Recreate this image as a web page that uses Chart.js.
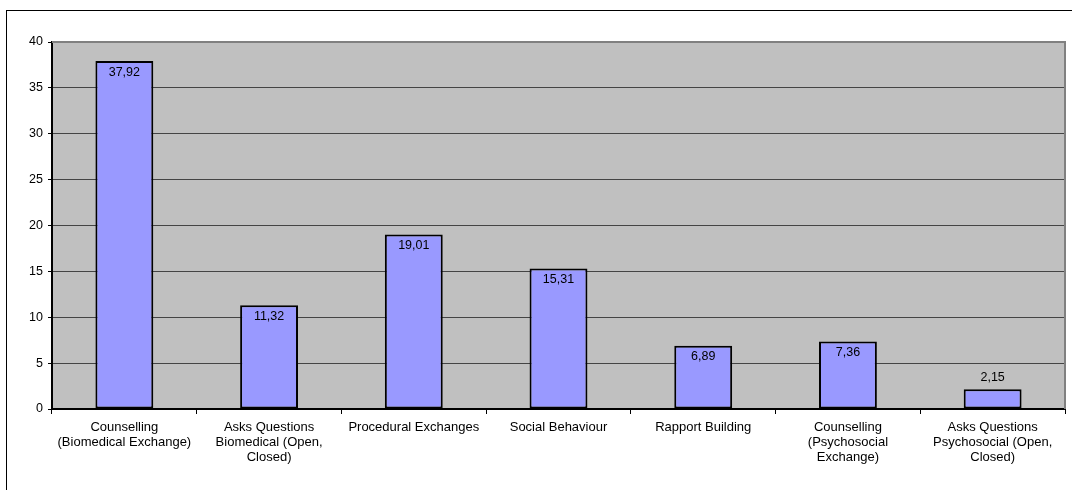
<!DOCTYPE html>
<html>
<head>
<meta charset="utf-8">
<script src="https://cdn.jsdelivr.net/npm/chart.js@4"></script>
<style>
  html, body { margin: 0; padding: 0; background: #fff; overflow: hidden; }
  #wrap { position: relative; width: 1072px; height: 490px; }
  #frame { position: absolute; left: 6px; top: 10px; width: 1100px; height: 520px; border: 1.5px solid #000; }
  canvas { position: absolute; left: 0; top: 0; }
</style>
</head>
<body>
<div id="wrap">
  <div id="frame"></div>
  <canvas id="c" width="1072" height="490"></canvas>
</div>
<script>
const categories = [
  ['Counselling', '(Biomedical Exchange)'],
  ['Asks Questions', 'Biomedical (Open,', 'Closed)'],
  ['Procedural Exchanges'],
  ['Social Behaviour'],
  ['Rapport Building'],
  ['Counselling', '(Psychosocial', 'Exchange)'],
  ['Asks Questions', 'Psychosocial (Open,', 'Closed)']
];
const values = [37.92, 11.32, 19.01, 15.31, 6.89, 7.36, 2.15];
const valueLabels = ['37,92', '11,32', '19,01', '15,31', '6,89', '7,36', '2,15'];
const yTicks = [0, 5, 10, 15, 20, 25, 30, 35, 40];

const FONT = '"Liberation Sans", Arial, sans-serif';

// Grey plot background with a grey frame on top and right
const plotBackground = {
  id: 'plotBackground',
  beforeDraw(chart) {
    const { ctx, chartArea: a } = chart;
    ctx.save();
    ctx.fillStyle = '#C0C0C0';
    ctx.fillRect(a.left, a.top, a.right - a.left, a.bottom - a.top);
    ctx.restore();
  },
  afterDatasetsDraw(chart) {
    const { ctx, chartArea: a } = chart;
    ctx.save();
    ctx.strokeStyle = '#808080';
    ctx.lineWidth = 2;
    ctx.beginPath();
    ctx.moveTo(a.left, a.top);
    ctx.lineTo(a.right, a.top);
    ctx.lineTo(a.right, a.bottom);
    ctx.stroke();
    ctx.restore();
  }
};

// Value labels: inside the bar near its top, or above short bars
const valueLabelPlugin = {
  id: 'valueLabelPlugin',
  afterDatasetsDraw(chart) {
    const { ctx } = chart;
    const meta = chart.getDatasetMeta(0);
    ctx.save();
    ctx.font = '12.5px ' + FONT;
    ctx.fillStyle = '#000';
    ctx.textAlign = 'center';
    ctx.textBaseline = 'middle';
    meta.data.forEach((bar, i) => {
      const h = bar.base - bar.y;
      const y = h > 24 ? bar.y + 11 : bar.y - 12;
      ctx.fillText(valueLabels[i], bar.x, y);
    });
    ctx.restore();
  }
};

new Chart(document.getElementById('c'), {
  type: 'bar',
  data: {
    labels: categories,
    datasets: [{
      data: values,
      backgroundColor: '#9999FF',
      borderColor: '#000',
      borderWidth: 2,
      borderSkipped: false,
      categoryPercentage: 1,
      barPercentage: 0.4
    }]
  },
  options: {
    responsive: false,
    animation: false,
    devicePixelRatio: 1,
    layout: { padding: { left: 0, top: 42, right: 7, bottom: 0 } },
    plugins: { legend: { display: false }, tooltip: { enabled: false } },
    scales: {
      x: {
        afterFit(scale) { scale.height = 81; },
        grid: {
          offset: true,
          drawOnChartArea: false,
          drawTicks: true,
          tickLength: 5,
          tickColor: '#000',
          tickWidth: 1
        },
        border: { display: true, color: '#000', width: 2 },
        ticks: {
          color: '#000',
          font: { family: FONT, size: 13, lineHeight: 1.15 },
          padding: 6,
          maxRotation: 0,
          autoSkip: false
        }
      },
      y: {
        min: 0,
        max: 40,
        afterFit(scale) { scale.width = 52; },
        afterBuildTicks(scale) { scale.ticks = yTicks.map(v => ({ value: v })); },
        grid: {
          color: '#444',
          lineWidth: 1,
          drawTicks: true,
          tickLength: 4,
          tickColor: '#000'
        },
        border: { display: true, color: '#000', width: 2 },
        ticks: {
          color: '#000',
          font: { family: FONT, size: 12.5 },
          padding: 5
        }
      }
    }
  },
  plugins: [plotBackground, valueLabelPlugin]
});
</script>
</body>
</html>
